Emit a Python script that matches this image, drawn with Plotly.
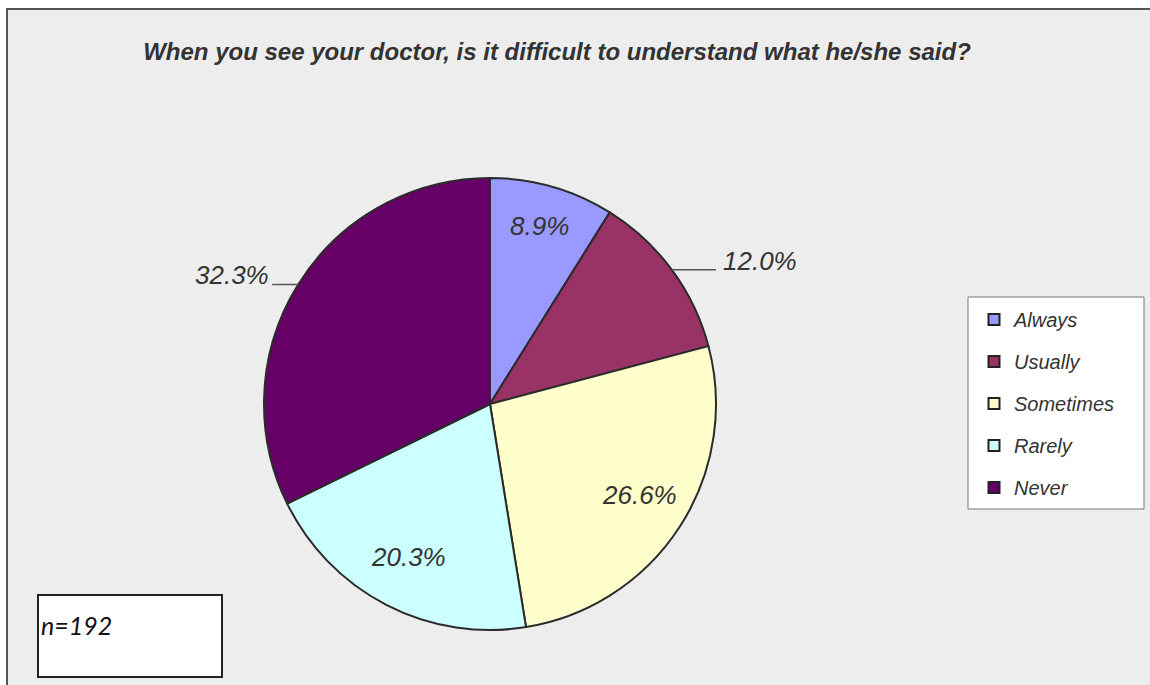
import math
import plotly.graph_objects as go

categories = ["Always", "Usually", "Sometimes", "Rarely", "Never"]
values = [8.9, 12.0, 26.6, 20.3, 32.3]
colors = ["#9999FF", "#993366", "#FFFFCC", "#CCFFFF", "#660066"]
label_outside = [False, True, False, False, True]
title_text = "When you see your doctor, is it difficult to understand what he/she said?"
note_text = "n=192"

W, H = 1150, 685
def px(x):
    return x / W
def py(y):
    return 1 - y / H

cx, cy, R = 490, 404, 226
dom_x = [px(cx - R), px(cx + R)]
dom_y = [py(cy + R), py(cy - R)]

fig = go.Figure()
fig.add_trace(go.Pie(
    labels=categories, values=values, sort=False, direction="clockwise", rotation=0,
    marker=dict(colors=colors, line=dict(color="#2b2b2b", width=2)),
    textinfo="none", hoverinfo="label+percent", showlegend=False,
    domain=dict(x=dom_x, y=dom_y),
))

for c, col in zip(categories, colors):
    fig.add_trace(go.Scatter(
        x=[None], y=[None], mode="markers", name=c, legendgroup=c,
        marker=dict(symbol="square", size=11, color=col, line=dict(color="#222222", width=2)),
    ))

shapes = []
annotations = []
# background frame
shapes.append(dict(type="rect", xref="paper", yref="paper", x0=px(7), x1=px(1170), y0=py(700), y1=py(9),
                   fillcolor="#EDEDED", line=dict(color="#555555", width=2), layer="below"))

total = sum(values)
cum = 0
lab_font = dict(family="Liberation Sans, Arial", size=26, color="#333333", style="italic")
for v, out in zip(values, label_outside):
    mid = (cum + v / 2) / total * 2 * math.pi
    cum += v
    s, c = math.sin(mid), math.cos(mid)
    txt = f"{v:.1f}%"
    if not out:
        r = 0.79 * R
        annotations.append(dict(x=px(cx + r * s), y=py(cy - r * c - 6), xref="paper", yref="paper",
                                text=txt, showarrow=False, font=lab_font, xanchor="center", yanchor="middle"))
    else:
        ex, ey = cx + R * s, cy - R * c
        if s > 0:
            lx = ex + 44
            shapes.append(dict(type="line", xref="paper", yref="paper", x0=px(ex), y0=py(ey), x1=px(lx), y1=py(ey),
                               line=dict(color="#555555", width=1.5)))
            annotations.append(dict(x=px(lx + 5), y=py(ey - 9), xref="paper", yref="paper", text=txt,
                                    showarrow=False, font=lab_font, xanchor="left", yanchor="middle"))
        else:
            lx = ex - 26
            shapes.append(dict(type="line", xref="paper", yref="paper", x0=px(ex), y0=py(ey), x1=px(lx), y1=py(ey),
                               line=dict(color="#555555", width=1.5)))
            annotations.append(dict(x=px(lx - 1), y=py(ey - 10), xref="paper", yref="paper", text=txt,
                                    showarrow=False, font=lab_font, xanchor="right", yanchor="middle"))

# legend box
shapes.append(dict(type="rect", xref="paper", yref="paper", x0=px(968), x1=px(1144), y0=py(509), y1=py(297),
                   fillcolor="white", line=dict(color="#777777", width=1), layer="below"))
# note box
shapes.append(dict(type="rect", xref="paper", yref="paper", x0=px(38), x1=px(222), y0=py(677), y1=py(595),
                   fillcolor="white", line=dict(color="#222222", width=2), layer="below"))
annotations.append(dict(x=px(39), y=py(625), xref="paper", yref="paper", text=note_text, showarrow=False,
                        font=dict(family="Lato, Liberation Sans", size=25, color="#111111", style="italic"),
                        xanchor="left", yanchor="middle"))

fig.update_layout(
    width=W, height=H, margin=dict(l=0, r=0, t=0, b=0),
    paper_bgcolor="white", plot_bgcolor="rgba(0,0,0,0)",
    xaxis=dict(visible=False), yaxis=dict(visible=False),
    title=dict(text=title_text, x=px(557), y=py(52), xanchor="center", yanchor="middle",
               font=dict(family="Liberation Sans, Arial", size=24, color="#333333", style="italic", weight="bold")),
    legend=dict(x=px(974), y=py(300), xanchor="left", yanchor="top", bgcolor="rgba(0,0,0,0)",
                borderwidth=0, traceorder="grouped", tracegroupgap=13,
                font=dict(family="Liberation Sans, Arial", size=20, color="#333333", style="italic")),
    shapes=shapes, annotations=annotations,
)
fig.write_html("out.html", config={"displayModeBar": False},
               post_script="document.body.style.margin='0';document.body.style.overflow='hidden';")
